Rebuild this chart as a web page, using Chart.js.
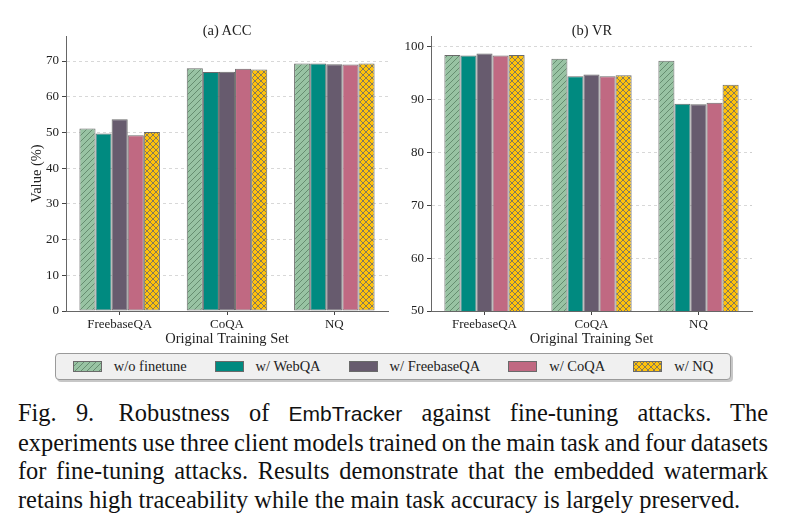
<!DOCTYPE html>
<html lang="en">
<head>
<meta charset="UTF-8">
<title>Robustness against fine-tuning</title>
<style>
  body { margin: 0; background: #fff; font-family: 'Liberation Serif', 'Times New Roman', serif; color: #222; }
  .page { position: relative; width: 785px; height: 526px; overflow: hidden; }
  .panel { position: absolute; top: 0; }
  #accPanel { left: 0; }
  #vrPanel { left: 395px; }
  .ptitle { position: absolute; top: 21px; font-size: 14.5px; line-height: 18px; transform: translateX(-50%); white-space: nowrap; }
  .legend {
    position: absolute; left: 55px; top: 353px; width: 676px; height: 27px;
    box-sizing: border-box; border: 1px solid #9a9a9a; border-radius: 4px;
    background: #f0f0f0; box-shadow: 2px 2px 0 rgba(0,0,0,0.22);
    display: flex; align-items: center; justify-content: center; font-size: 14.5px;
  }
  .item { display: flex; align-items: center; margin: 0 14px; white-space: nowrap; }
  .item canvas { width: 29px; height: 11px; margin-right: 12px; }
  .caption { position: absolute; left: 18px; top: 399px; width: 750px; font-size: 24.4px; line-height: 28.5px; color: #111; }
  .caption .j { text-align: justify; text-align-last: justify; white-space: nowrap; word-spacing: -2px; }
  .caption .sans { font-family: 'Liberation Sans', Arial, sans-serif; font-size: 21px; }
</style>
</head>
<body>
<div class="page">
  <div class="panel" id="accPanel"><canvas id="accChart" width="395" height="350"></canvas></div>
  <div class="panel" id="vrPanel"><canvas id="vrChart" width="390" height="350"></canvas></div>
  <div class="ptitle" style="left:227px">(a) ACC</div>
  <div class="ptitle" style="left:592px">(b) VR</div>
  <div class="legend" id="legend"></div>
  <div class="caption">
    <div class="j">Fig. 9.&emsp;Robustness of <span class="sans">EmbTracker</span> against fine-tuning attacks. The</div>
    <div class="j">experiments use three client models trained on the main task and four datasets</div>
    <div class="j">for fine-tuning attacks. Results demonstrate that the embedded watermark</div>
    <div>retains high traceability while the main task accuracy is largely preserved.</div>
  </div>
</div>

<script src="https://cdn.jsdelivr.net/npm/chart.js"></script>
<script>
  const categories = ['FreebaseQA', 'CoQA', 'NQ'];
  const seriesNames = ['w/o finetune', 'w/ WebQA', 'w/ FreebaseQA', 'w/ CoQA', 'w/ NQ'];

  // (a) ACC
  const accWoFinetune = [51.1, 68.0, 69.3];
  const accWebQA      = [49.7, 66.9, 69.3];
  const accFreebaseQA = [53.7, 67.0, 69.1];
  const accCoQA       = [49.2, 67.8, 69.0];
  const accNQ         = [50.1, 67.6, 69.3];

  // (b) VR
  const vrWoFinetune = [98.4, 97.7, 97.3];
  const vrWebQA      = [98.3, 94.4, 89.2];
  const vrFreebaseQA = [98.7, 94.7, 89.1];
  const vrCoQA       = [98.3, 94.4, 89.4];
  const vrNQ         = [98.4, 94.6, 92.8];

  Chart.defaults.font.family = "'Liberation Serif', 'Times New Roman', serif";
  Chart.defaults.color = '#222';

  function hatch(base, line, kind) {
    const s = 6;
    const c = document.createElement('canvas');
    c.width = s; c.height = s;
    const g = c.getContext('2d');
    g.fillStyle = base;
    g.fillRect(0, 0, s, s);
    g.strokeStyle = line;
    g.lineWidth = 1;
    g.beginPath();
    g.moveTo(0, s); g.lineTo(s, 0);
    g.moveTo(-1, 1); g.lineTo(1, -1);
    g.moveTo(s - 1, s + 1); g.lineTo(s + 1, s - 1);
    if (kind === 'x') {
      g.moveTo(0, 0); g.lineTo(s, s);
      g.moveTo(-1, s - 1); g.lineTo(1, s + 1);
      g.moveTo(s - 1, -1); g.lineTo(s + 1, 1);
    }
    g.stroke();
    return g.createPattern(c, 'repeat');
  }

  const fills = [
    hatch('#98c3a3', '#668d70', '/'),
    '#008a80',
    '#675b6e',
    '#c06982',
    hatch('#ffc20a', '#857a5a', 'x')
  ];

  function makeChart(id, values, yMin, yMax, yWidth, padRight, showYTitle) {
    return new Chart(document.getElementById(id), {
      type: 'bar',
      data: {
        labels: categories,
        datasets: seriesNames.map((name, i) => ({
          label: name,
          data: values[i],
          backgroundColor: fills[i],
          borderColor: '#6a6a6a',
          borderWidth: 1,
          borderSkipped: false,
          categoryPercentage: 0.75,
          barPercentage: 1
        }))
      },
      options: {
        responsive: false,
        animation: false,
        layout: { padding: { top: 36, right: padRight, bottom: 2, left: 0 } },
        plugins: { legend: { display: false }, tooltip: { enabled: false } },
        scales: {
          x: {
            grid: { drawOnChartArea: false, offset: false, tickLength: 4, tickColor: '#444' },
            border: { color: '#666' },
            ticks: { font: { size: 13 }, color: '#222', padding: 2, maxRotation: 0 },
            title: { display: true, text: 'Original Training Set', font: { size: 14.5 }, color: '#222', padding: { top: 0, bottom: 0 } },
            afterFit: s => { s.height = 37; }
          },
          y: {
            min: yMin,
            max: yMax,
            ticks: { stepSize: 10, includeBounds: false, font: { size: 13 }, color: '#222', padding: 3 },
            grid: { color: '#cfcfcf', lineWidth: 0.8, tickLength: 4, tickColor: '#444', tickWidth: 1 },
            border: { color: '#666', dash: [3, 3] },
            title: { display: showYTitle, text: 'Value (%)', font: { size: 14.5 }, color: '#222', padding: { top: 28, bottom: 0 } },
            afterFit: s => { s.width = yWidth; }
          }
        }
      }
    });
  }

  makeChart('accChart', [accWoFinetune, accWebQA, accFreebaseQA, accCoQA, accNQ], 0, 77, 66, 7, true);
  makeChart('vrChart', [vrWoFinetune, vrWebQA, vrFreebaseQA, vrCoQA, vrNQ], 50, 102, 36, 33, false);

  // shared legend
  const legend = document.getElementById('legend');
  seriesNames.forEach((name, i) => {
    const item = document.createElement('div');
    item.className = 'item';
    const sw = document.createElement('canvas');
    sw.width = 29; sw.height = 11;
    const g = sw.getContext('2d');
    g.fillStyle = fills[i];
    g.fillRect(0, 0, 29, 11);
    g.strokeStyle = '#6a6a6a';
    g.lineWidth = 1;
    g.strokeRect(0.5, 0.5, 28, 10);
    item.appendChild(sw);
    const label = document.createElement('span');
    label.textContent = name;
    item.appendChild(label);
    legend.appendChild(item);
  });
</script>
</body>
</html>
